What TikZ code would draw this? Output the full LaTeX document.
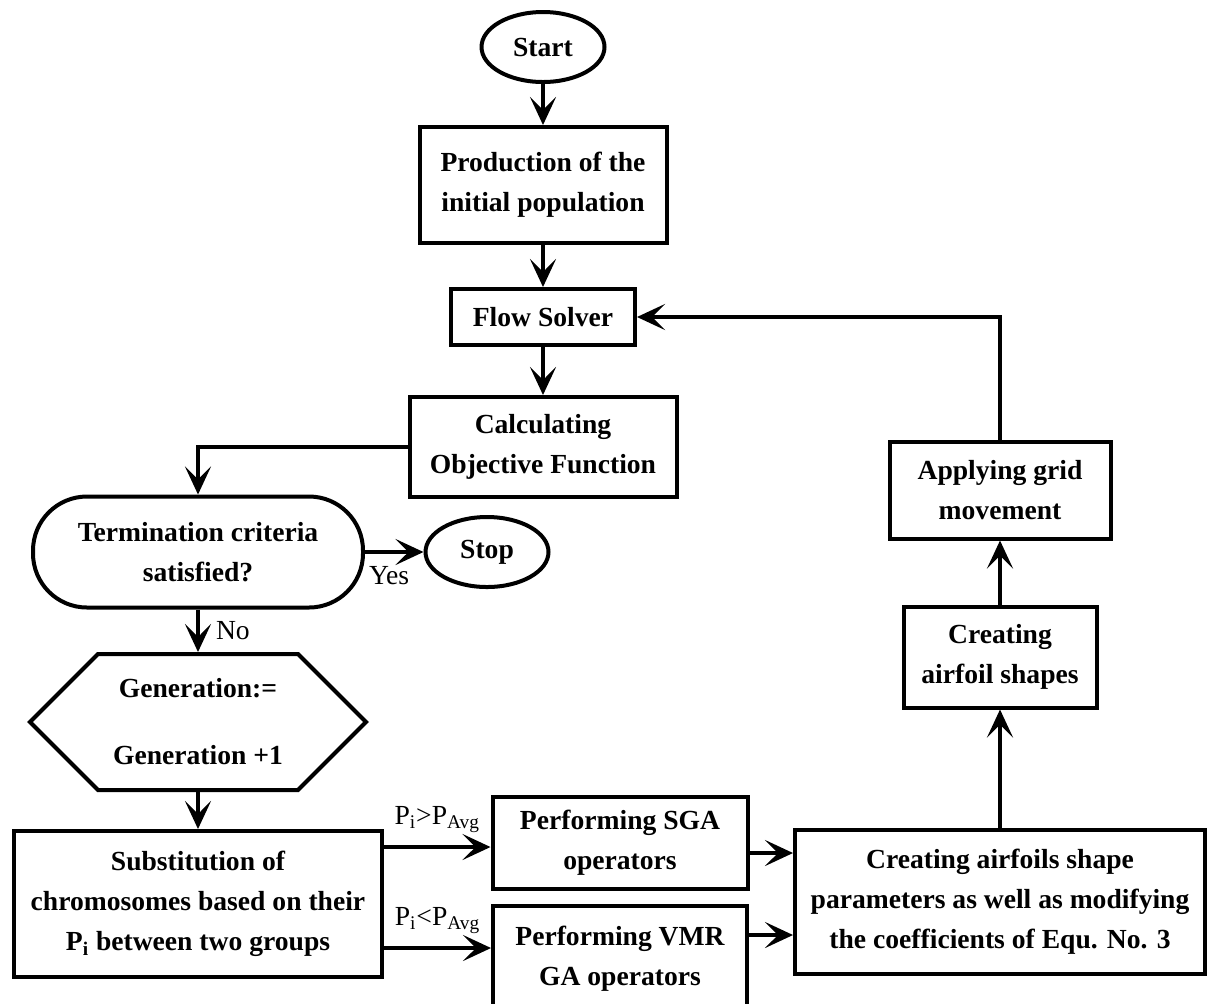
\documentclass[tikz,border=0pt]{standalone}
\usepackage{fontspec}
\setmainfont{Liberation Serif}
\usetikzlibrary{shapes.geometric,shapes.symbols,arrows.meta}

\begin{document}
\begin{tikzpicture}[x=0.5pt,y=-0.5pt]
		\tikzstyle{every node}+=[font=\fontsize{13.8}{20}\selectfont\bfseries, align=center, line width=2pt, inner sep=0pt]
		\tikzstyle{box}=[draw, rectangle]
		\tikzstyle{lbl}=[font=\fontsize{13.8}{16}\selectfont\normalfont]
		\tikzstyle{arr}=[line width=2pt, -{Stealth[length=14pt,width=13pt,inset=6.5pt]}]
		\useasboundingbox (0,0) rectangle (1208,1003);
		\node [draw, ellipse, minimum width=61.5pt, minimum height=35pt] (start) at (543,47) {Start};
		\node [box, minimum width=123.5pt, minimum height=58pt] (prod) at (543,185) {Production of the\\initial population};
		\node [box, minimum width=92pt, minimum height=28pt] (flow) at (543,317) {Flow Solver};
		\node [box, minimum width=133.5pt, minimum height=50pt] (calc) at (543,447) {Calculating\\Objective Function};
		\node [draw, rectangle, rounded corners=27pt, minimum width=165pt, minimum height=55.5pt] (term) at (198,552) {Termination criteria\\satisfied?};
		\node [draw, ellipse, minimum width=61.5pt, minimum height=35pt] (stop) at (487,552) {Stop};
		\node [draw, signal, signal to=east and west, signal pointer angle=90, minimum width=168pt, minimum height=68pt] (gen) at (198,722) {Generation:=\\[13.5pt]Generation +1};
		\node [box, minimum width=184pt, minimum height=73pt] (subst) at (198,904) {Substitution of\\chromosomes based on their\\P\textsubscript{i} between two groups};
		\node [box, minimum width=127.5pt, minimum height=46pt] (sga) at (620,843) {Performing SGA\\operators};
		\node [box, minimum width=127pt, minimum height=53pt] (vmr) at (620,959) {Performing VMR\\GA operators};
		\node [box, minimum width=205pt, minimum height=72pt] (big) at (1000,902) {Creating airfoils shape\\parameters as well as modifying\\the coefficients of Equ. No. 3};
		\node [box, minimum width=96.5pt, minimum height=50.5pt] (creat) at (1000,657) {Creating\\airfoil shapes};
		\node [box, minimum width=110.5pt, minimum height=48.5pt] (apply) at (1000,490) {Applying grid\\movement};
		\draw [arr] (start) -- (prod);
		\draw [arr] (prod) -- (flow);
		\draw [arr] (flow) -- (calc);
		\draw [arr] (calc.west) -| (term.north);
		\draw [arr] (term.east) -- (stop.west) node [lbl, pos=0, below right, xshift=1pt, yshift=-6pt] {Yes};
		\draw [arr] (term.south) -- (gen.north) node [lbl, midway, right, xshift=8pt] {No};
		\draw [arr] (gen.south) -- (subst.north);
		\draw [arr] ([yshift=-2pt]subst.east |- sga.west) -- ([yshift=-2pt]sga.west) node [lbl, pos=0.5, above=6pt] {P\textsubscript{i}>P\textsubscript{Avg}};
		\draw [arr] ([yshift=5.5pt]subst.east |- vmr.west) -- ([yshift=5.5pt]vmr.west) node [lbl, pos=0.5, above=6pt] {P\textsubscript{i}<P\textsubscript{Avg}};
		\draw [arr] ([yshift=-5pt]sga.east) -- ([yshift=-5pt]sga.east -| big.west);
		\draw [arr] ([yshift=12pt]vmr.east) -- ([yshift=12pt]vmr.east -| big.west);
		\draw [arr] (big.north) -- (creat.south);
		\draw [arr] (creat.north) -- (apply.south);
		\draw [arr] (apply.north) |- (flow.east);
	\end{tikzpicture}
\end{document}
